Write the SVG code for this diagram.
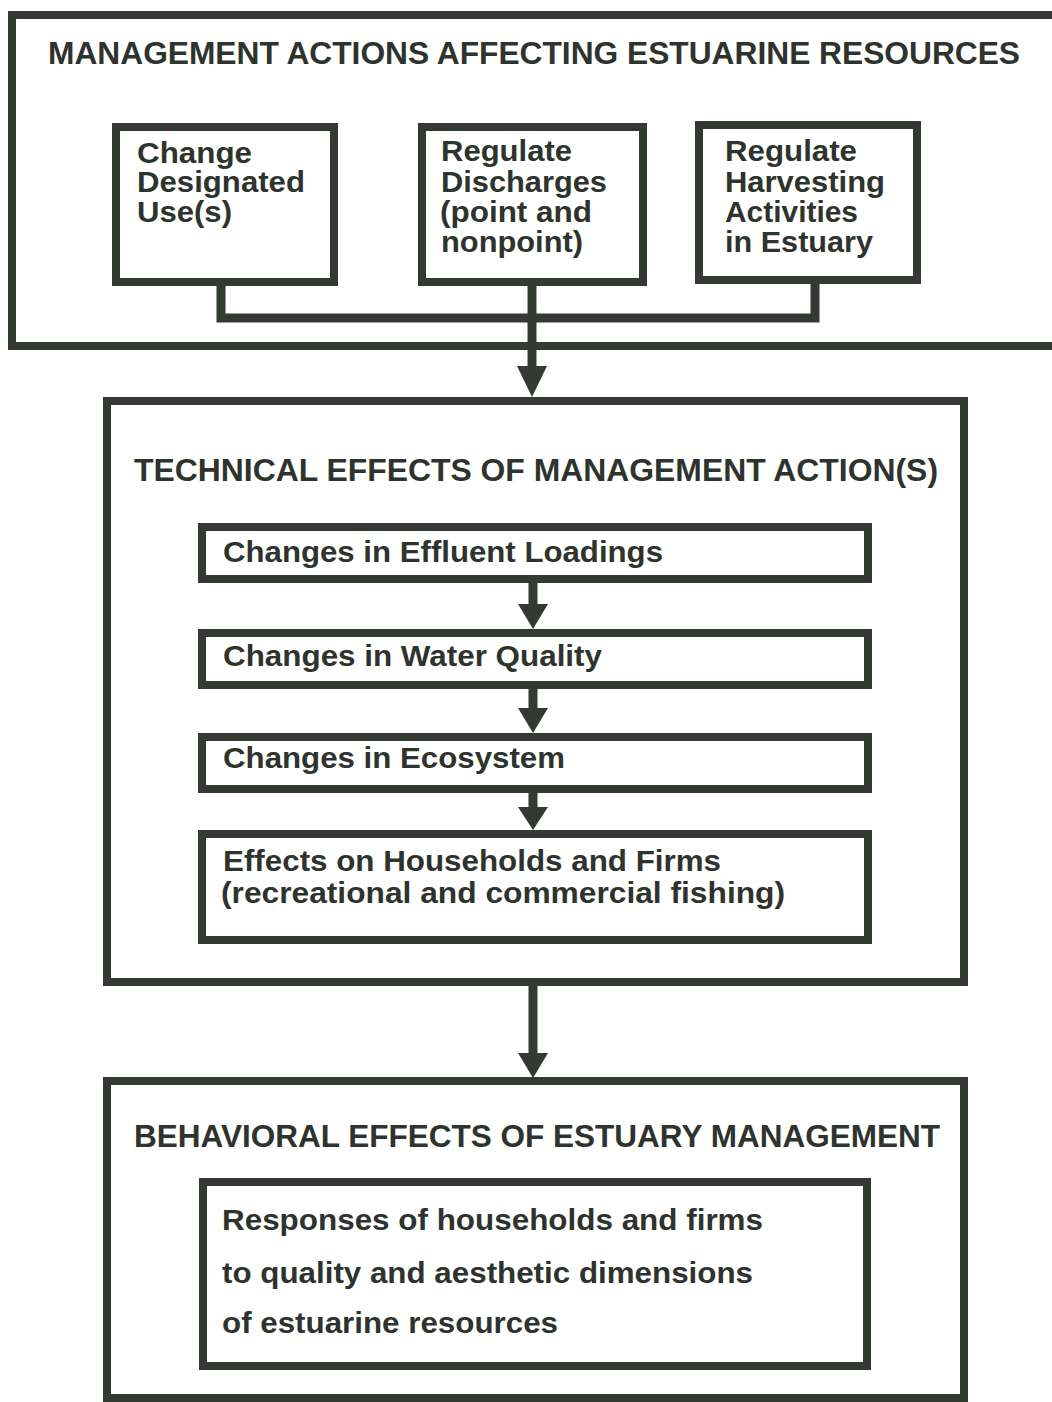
<svg xmlns="http://www.w3.org/2000/svg" width="1052" height="1402" viewBox="0 0 1052 1402">
<style>
.box{fill:none;stroke:#343934;stroke-width:8}
.ibox{fill:#fff;stroke:#343934;stroke-width:8}
.ln{fill:none;stroke:#343934;stroke-width:9}
.ah{fill:#343934}
text{font-family:"Liberation Sans",Arial,sans-serif;font-weight:bold;fill:#2e332e}
.t{font-size:31px}
.b{font-size:29px}
.e{font-size:29px}
</style>
<rect x="0" y="0" width="1052" height="1402" fill="#fff"/>
<g id="management">
<rect class="box" x="12" y="15" width="1050" height="331"/>
<text class="t" x="48" y="64" textLength="972" lengthAdjust="spacingAndGlyphs">MANAGEMENT ACTIONS AFFECTING ESTUARINE RESOURCES</text>
</g>
<g id="change-use">
<rect class="ibox" x="116" y="127" width="218" height="155"/>
<text class="b" x="137" y="163" textLength="115" lengthAdjust="spacingAndGlyphs">Change</text>
<text class="b" x="137" y="192" textLength="168" lengthAdjust="spacingAndGlyphs">Designated</text>
<text class="b" x="137" y="222" textLength="95" lengthAdjust="spacingAndGlyphs">Use(s)</text>
</g>
<g id="regulate-discharges">
<rect class="ibox" x="422" y="127" width="221" height="155"/>
<text class="b" x="441" y="161" textLength="131" lengthAdjust="spacingAndGlyphs">Regulate</text>
<text class="b" x="441" y="192" textLength="166" lengthAdjust="spacingAndGlyphs">Discharges</text>
<text class="b" x="440" y="222" textLength="152" lengthAdjust="spacingAndGlyphs">(point and</text>
<text class="b" x="441" y="252" textLength="142" lengthAdjust="spacingAndGlyphs">nonpoint)</text>
</g>
<g id="regulate-harvesting">
<rect class="ibox" x="699" y="125" width="218" height="155"/>
<text class="b" x="725" y="161" textLength="132" lengthAdjust="spacingAndGlyphs">Regulate</text>
<text class="b" x="725" y="192" textLength="160" lengthAdjust="spacingAndGlyphs">Harvesting</text>
<text class="b" x="725" y="222" textLength="133" lengthAdjust="spacingAndGlyphs">Activities</text>
<text class="b" x="725" y="252" textLength="148" lengthAdjust="spacingAndGlyphs">in Estuary</text>
</g>
<g id="technical">
<rect class="box" x="107" y="401" width="857" height="581"/>
<text class="t" x="134" y="481" textLength="804" lengthAdjust="spacingAndGlyphs">TECHNICAL EFFECTS OF MANAGEMENT ACTION(S)</text>
</g>
<g id="effluent">
<rect class="ibox" x="202" y="527" width="666" height="52"/>
<text class="e" x="223" y="562" textLength="440" lengthAdjust="spacingAndGlyphs">Changes in Effluent Loadings</text>
</g>
<g id="water-quality">
<rect class="ibox" x="202" y="633" width="666" height="52"/>
<text class="e" x="223" y="666" textLength="379" lengthAdjust="spacingAndGlyphs">Changes in Water Quality</text>
</g>
<g id="ecosystem">
<rect class="ibox" x="202" y="737" width="666" height="52"/>
<text class="e" x="223" y="768" textLength="342" lengthAdjust="spacingAndGlyphs">Changes in Ecosystem</text>
</g>
<g id="households">
<rect class="ibox" x="202" y="834" width="666" height="106"/>
<text class="e" x="223" y="871" textLength="498" lengthAdjust="spacingAndGlyphs">Effects on Households and Firms</text>
<text class="e" x="221" y="903" textLength="564" lengthAdjust="spacingAndGlyphs">(recreational and commercial fishing)</text>
</g>
<g id="behavioral">
<rect class="box" x="107" y="1081" width="857" height="317"/>
<text class="t" x="134" y="1147" textLength="806" lengthAdjust="spacingAndGlyphs">BEHAVIORAL EFFECTS OF ESTUARY MANAGEMENT</text>
</g>
<g id="responses">
<rect class="ibox" x="203" y="1182" width="664" height="184"/>
<text class="e" x="222" y="1230" textLength="541" lengthAdjust="spacingAndGlyphs">Responses of households and firms</text>
<text class="e" x="222" y="1283" textLength="531" lengthAdjust="spacingAndGlyphs">to quality and aesthetic dimensions</text>
<text class="e" x="222" y="1333" textLength="336" lengthAdjust="spacingAndGlyphs">of estuarine resources</text>
</g>
<g id="connectors">
<polyline class="ln" points="221,286 221,318 815,318 815,284"/>
<line class="ln" x1="532" y1="286" x2="532" y2="368"/>
<polygon class="ah" points="517,366 547,366 532,397"/>
<line class="ln" x1="533" y1="583" x2="533" y2="606"/>
<polygon class="ah" points="518,604 548,604 533,629"/>
<line class="ln" x1="533" y1="689" x2="533" y2="710"/>
<polygon class="ah" points="518,708 548,708 533,733"/>
<line class="ln" x1="533" y1="793" x2="533" y2="810"/>
<polygon class="ah" points="518,807 548,807 533,830"/>
<line class="ln" x1="533" y1="986" x2="533" y2="1055"/>
<polygon class="ah" points="518,1053 548,1053 533,1078"/>
</g>
</svg>
